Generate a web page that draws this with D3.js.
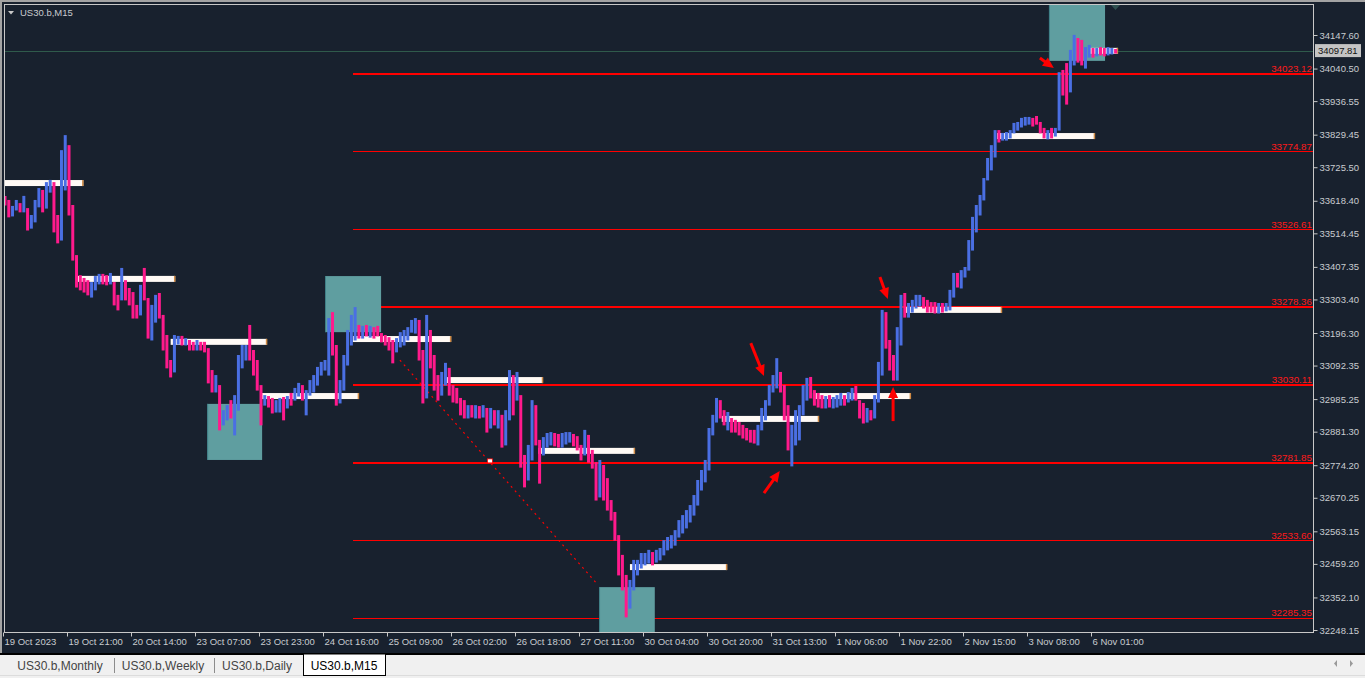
<!DOCTYPE html>
<html><head><meta charset="utf-8">
<script src="https://cdn.jsdelivr.net/npm/d3@7"></script>
<style>
body{margin:0;background:#18212e;overflow:hidden}
text{font-family:"Liberation Sans",Arial,sans-serif}
</style>
</head><body>
<svg id="c" width="1365" height="678"></svg>
<script>
// ---------------- data ----------------
const symbolTitle = "US30.b,M15";
const timeLabels = ["19 Oct 2023","19 Oct 21:00","20 Oct 14:00","23 Oct 07:00","23 Oct 23:00","24 Oct 16:00","25 Oct 09:00","26 Oct 02:00","26 Oct 18:00","27 Oct 11:00","30 Oct 04:00","30 Oct 20:00","31 Oct 13:00","1 Nov 06:00","1 Nov 22:00","2 Nov 15:00","3 Nov 08:00","6 Nov 01:00"];
const timeLabelBars = [0,17,34,51,68,85,102,119,136,153,170,187,204,221,238,255,272,289];
const priceTicks = [34147.60,34040.50,33936.55,33829.45,33725.50,33618.40,33514.45,33407.35,33303.40,33196.30,33092.35,32985.25,32881.30,32774.20,32670.25,32563.15,32459.20,32352.10,32248.15];
const fibLevels = [34023.12,33774.87,33526.61,33278.36,33030.11,32781.85,32533.60,32285.35];
const fibMain = [true,false,false,true,true,true,false,false];
const fibStartBar = 92.4;
const currentPrice = 34097.81;

const barOpen0 = 33630;
const barHigh = [
33634,33621,33602,33621,33611,33634,33595,33573,33621,33659,
33653,33678,33685,33678,33573,33780,33828,33796,33605,33445,
33381,33372,33365,33359,33378,33385,33385,33381,33388,33359,
33318,33404,33365,33340,33327,33286,33350,33404,33308,33286,
33318,33324,33254,33190,33110,33190,33187,33187,33180,33174,
33168,33174,33168,33168,33148,33078,33062,33030,32950,32966,
32982,32998,33126,33158,33158,33222,33142,33110,33030,32998,
32995,32989,32982,32989,32992,32995,33005,33021,33037,33030,
33014,33046,33062,33088,33104,33110,33244,33263,33158,33046,
33126,33206,33254,33279,33222,33219,33222,33219,33215,33219,
33196,33190,33183,33174,33180,33199,33206,33215,33238,33244,
33238,33142,33254,33206,33126,33062,33072,33101,33085,33030,
33021,32989,32982,32966,32966,32966,32963,32966,32957,32957,
32950,32950,32935,32950,33078,33062,33072,32998,32807,32839,
32982,32966,32855,32864,32877,32880,32877,32874,32877,32880,
32880,32874,32867,32839,32887,32871,32823,32784,32791,32775,
32733,32663,32625,32551,32488,32424,32408,32472,32472,32494,
32494,32504,32497,32504,32510,32535,32545,32551,32567,32599,
32615,32631,32647,32679,32727,32759,32791,32893,32935,32989,
32982,32950,32944,32925,32919,32912,32903,32893,32887,32887,
32903,32957,32982,33030,33062,33116,33072,33030,32966,32903,
32950,32966,33030,33053,33056,33014,33005,32998,32995,32998,
32992,32998,33005,32998,33008,33021,33027,32982,32973,32957,
32950,32998,33104,33270,33263,33174,33126,33215,33318,33324,
33292,33302,33318,33318,33311,33302,33295,33295,33292,33292,
33292,33334,33388,33388,33397,33407,33493,33567,33605,33637,
33691,33755,33796,33844,33844,33835,33838,33844,33867,33870,
33883,33886,33886,33883,33889,33870,33851,33844,33851,33851,
34029,34036,34058,34100,34148,34138,34132,34109,34116,34106,
34106,34109,34106,34109,34106,34103];
const barLow = [
33605,33567,33570,33589,33583,33583,33525,33531,33551,33599,
33583,33595,33646,33519,33484,33493,33653,33573,33429,33343,
33334,33327,33318,33311,33334,33353,33353,33350,33353,33286,
33270,33302,33302,33286,33244,33244,33254,33302,33180,33174,
33231,33244,33142,33085,33056,33072,33161,33158,33158,33142,
33142,33142,33142,33136,33037,33008,33008,32887,32903,32919,
32925,32871,32950,33085,33110,33110,33062,33014,32903,32966,
32960,32941,32944,32944,32919,32957,32966,32982,32995,32982,
32935,32998,33008,33030,33062,33078,33062,33126,32966,32973,
33014,33094,33158,33174,33180,33180,33187,33183,33180,33187,
33168,33158,33142,33101,33136,33152,33158,33174,33199,33196,
33110,32973,32989,33085,33014,32982,32998,33030,32998,32976,
32973,32935,32925,32925,32928,32925,32925,32928,32880,32893,
32903,32893,32832,32839,32919,32935,32982,32768,32705,32727,
32791,32839,32717,32807,32832,32839,32836,32832,32832,32842,
32848,32836,32823,32791,32807,32784,32765,32663,32673,32663,
32631,32599,32535,32424,32376,32290,32318,32376,32424,32446,
32456,32462,32456,32465,32472,32488,32504,32510,32519,32545,
32558,32574,32593,32615,32647,32695,32721,32759,32871,32912,
32925,32903,32887,32880,32880,32871,32861,32855,32848,32845,
32839,32887,32919,32966,33008,33021,33008,32919,32823,32772,
32839,32855,32935,32982,32989,32966,32960,32957,32957,32960,
32957,32960,32966,32966,32976,32982,32982,32925,32909,32912,
32919,32925,32976,33062,33148,33078,33046,33046,33158,33247,
33247,33263,33276,33282,33276,33263,33263,33260,33260,33263,
33267,33270,33311,33343,33340,33375,33397,33461,33519,33573,
33621,33685,33717,33758,33806,33812,33812,33819,33835,33844,
33854,33860,33863,33857,33863,33835,33819,33816,33819,33825,
33844,33956,33927,33966,34052,34061,34052,34042,34077,34077,
34081,34084,34081,34084,34087,34090];
const barClose = [
33621,33579,33592,33611,33592,33602,33551,33563,33605,33646,
33605,33666,33672,33557,33519,33749,33780,33605,33445,33365,
33359,33350,33334,33343,33365,33372,33369,33365,33365,33302,
33292,33350,33318,33302,33270,33263,33334,33308,33206,33254,
33302,33254,33174,33104,33072,33174,33174,33168,33171,33158,
33155,33161,33158,33148,33062,33021,33030,32919,32935,32950,
32944,32966,33110,33126,33142,33126,33094,33030,32982,32982,
32976,32950,32966,32982,32935,32989,32982,33008,33021,32998,
32998,33030,33046,33078,33085,33104,33190,33142,32982,33030,
33110,33174,33206,33206,33199,33206,33196,33206,33199,33193,
33183,33174,33158,33142,33158,33174,33190,33206,33222,33231,
33126,32998,33190,33110,33046,33008,33046,33072,33014,32998,
32982,32950,32944,32950,32944,32950,32938,32950,32903,32935,
32919,32925,32855,32935,33046,32966,32998,32791,32743,32791,
32950,32855,32823,32839,32855,32861,32855,32848,32855,32867,
32871,32855,32839,32807,32871,32807,32784,32679,32759,32711,
32647,32615,32551,32456,32408,32360,32376,32440,32456,32472,
32478,32488,32472,32494,32504,32519,32535,32535,32558,32583,
32599,32615,32625,32663,32711,32743,32775,32871,32919,32966,
32944,32919,32925,32903,32893,32887,32877,32871,32861,32855,
32887,32935,32966,33014,33046,33062,33021,32950,32855,32887,
32919,32935,33014,33030,33008,32989,32982,32976,32982,32973,
32982,32989,32992,32982,32995,33008,32998,32950,32925,32944,
32935,32982,33078,33238,33174,33110,33078,33190,33302,33270,
33276,33286,33302,33308,33292,33286,33279,33276,33282,33276,
33286,33318,33372,33365,33381,33397,33468,33541,33589,33627,
33678,33733,33780,33828,33825,33828,33832,33838,33854,33863,
33876,33879,33883,33876,33870,33844,33828,33838,33828,33844,
34004,33988,33956,34068,34116,34100,34084,34093,34100,34093,
34100,34097,34093,34100,34100,34098];

// white level segments
const zonePrice = [33675,33369,33168,32995,33177,33046,32820,32449,32922,32995,33270,33825,34097];
const zoneFrom  = [0,19,44,68,92.4,117,141.6,166,190.4,214.6,238.8,263.5,288];
const zoneTo    = [20.8,45.2,69.6,94,118.5,142.9,167.3,191.8,216.2,240.6,264.8,289.5,295.6];

// teal boxes
const boxFrom   = [53.7,85,157.8,277.3];
const boxTo     = [68.3,99.9,172.6,292.2];
const boxTop    = [32970,33378,32385,34244];
const boxBottom = [32791,33199,32206,34065];

// red arrows [bar, price]
const arrowTail = [[198.1,33164],[201.6,32685],[235.9,32915],[232.4,33375],[274.9,34074]];
const arrowHead = [[201.6,33059],[205.8,32756],[235.9,33024],[234.5,33305],[278.6,34042]];

// dotted trend line
const trendStart = [104.9,33110];
const trendEnd   = [157.5,32392];
const trendMarker = [128.8,32788];

const tabNames = ["US30.b,Monthly","US30.b,Weekly","US30.b,Daily","US30.b,M15"];
const activeTab = 3;

// ---------------- drawing ----------------
const W = 1365, H = 678;
const L = 4, R = 1313, T = 4, B = 632;
const svg = d3.select("#c");
const x = d3.scaleLinear().domain([0,17]).range([5,69]);
const y = d3.scaleLinear().domain([32248.15,34147.60]).range([630,35]);

svg.append("rect").attr("width",W).attr("height",H).attr("fill","#18212e");
// window edges
svg.append("rect").attr("x",0).attr("y",0).attr("width",W).attr("height",2).attr("fill","#a3a3a3");
svg.append("rect").attr("x",0).attr("y",0).attr("width",2).attr("height",653).attr("fill","#a3a3a3");

svg.append("defs").append("clipPath").attr("id","plot")
  .append("rect").attr("x",L+1).attr("y",T+1).attr("width",R-L-1).attr("height",B-T-1);
const g = svg.append("g").attr("clip-path","url(#plot)");

// current price line
g.append("line").attr("x1",L).attr("x2",R).attr("y1",Math.round(y(currentPrice))+0.5).attr("y2",Math.round(y(currentPrice))+0.5)
  .attr("stroke","#2f5a4b").attr("stroke-width",1).attr("shape-rendering","crispEdges");

// fib lines
fibLevels.forEach((v,i)=>{
  const yy = fibMain[i] ? Math.round(y(v)) : Math.floor(y(v)) + 0.5;
  g.append("line").attr("x1",x(fibStartBar)).attr("x2",R).attr("y1",yy).attr("y2",yy)
    .attr("stroke","#ff0000").attr("stroke-width",fibMain[i]?2:1).attr("shape-rendering","crispEdges");
  svg.append("text").attr("x",R-1).attr("y",Math.round(y(v))-2.5).attr("text-anchor","end")
    .attr("font-size","9.8px").attr("fill","#ff1a1a").text(d3.format(".2f")(v));
});

// boxes
boxFrom.forEach((f,i)=>{
  g.append("rect").attr("x",x(f)).attr("y",y(boxTop[i])).attr("width",x(boxTo[i])-x(f))
    .attr("height",y(boxBottom[i])-y(boxTop[i])).attr("fill","#5f9ea0");
  g.append("line").attr("x1",x(f)+0.5).attr("x2",x(f)+0.5).attr("y1",y(boxTop[i])).attr("y2",y(boxBottom[i]))
    .attr("stroke","#3f7f86").attr("stroke-width",1);
});

// trend line
g.append("line").attr("x1",x(trendStart[0])).attr("y1",y(trendStart[1]))
  .attr("x2",x(trendEnd[0])).attr("y2",y(trendEnd[1]))
  .attr("stroke","#ff0000").attr("stroke-width",1.2).attr("stroke-dasharray","2,4");
g.append("rect").attr("x",x(trendMarker[0])-2.5).attr("y",y(trendMarker[1])-2)
  .attr("width",5).attr("height",4).attr("fill","#ffffff").attr("stroke","#ff0000").attr("stroke-width",0.8);

// white zones
zonePrice.forEach((p,i)=>{
  const x0 = x(zoneFrom[i]), x1 = x(zoneTo[i]);
  g.append("rect").attr("x",x0).attr("y",y(p)-3).attr("width",x1-x0).attr("height",6).attr("fill","#fffaf5");
  g.append("rect").attr("x",x1-1.2).attr("y",y(p)-3).attr("width",1.5).attr("height",6).attr("fill","#d08a44");
});

// candles
const bars = barHigh.map((h,i)=>{
  const o = i===0 ? barOpen0 : barClose[i-1];
  return {i, h, l: barLow[i], o, c: barClose[i]};
});
g.selectAll("line.bar").data(bars).join("line").attr("class","bar")
  .attr("x1",d=>x(d.i)).attr("x2",d=>x(d.i))
  .attr("y1",d=>y(d.h)).attr("y2",d=>y(d.l)+0.5)
  .attr("stroke",d=>d.c>=d.o ? "#4a6fe3" : "#ff1a8c").attr("stroke-width",3);

// arrows
arrowTail.forEach((t,i)=>{
  const hd = arrowHead[i];
  const x0 = x(t[0]), y0 = y(t[1]), x1 = x(hd[0]), y1 = y(hd[1]);
  const dx = x1-x0, dy = y1-y0, len = Math.hypot(dx,dy);
  const ux = dx/len, uy = dy/len, px = -uy, py = ux;
  const hl = 11, hw = 5;
  const bx = x1-ux*hl, by = y1-uy*hl;
  g.append("line").attr("x1",x0).attr("y1",y0).attr("x2",bx+ux*1).attr("y2",by+uy*1)
    .attr("stroke","#ff0000").attr("stroke-width",3);
  g.append("path").attr("d",`M${x1},${y1}L${bx+px*hw},${by+py*hw}L${bx-px*hw},${by-py*hw}Z`).attr("fill","#ff0000");
});

// shift marker
svg.append("path").attr("d","M1111,5L1120,5L1115.5,10Z").attr("fill","#2f5050");

// frame
svg.append("rect").attr("x",L+0.5).attr("y",T+0.5).attr("width",R-L).attr("height",B-T)
  .attr("fill","none").attr("stroke","#c8c8c8").attr("stroke-width",1);

// right axis
const ay = svg.append("g").attr("transform",`translate(${R+0.5},0)`)
  .call(d3.axisRight(y).tickValues(priceTicks).tickSize(4).tickFormat(d3.format(".2f")));
ay.select(".domain").remove();
ay.selectAll("line").attr("stroke","#c8c8c8");
ay.selectAll("text").attr("fill","#c8ccd0").attr("font-size","9.5px").attr("font-family","Liberation Sans").attr("x",6);

// current price label
const cy = y(currentPrice);
svg.append("rect").attr("x",R+2).attr("y",cy-6.5).attr("width",46).attr("height",13).attr("fill","#c4c4c4");
svg.append("text").attr("x",R+5).attr("y",cy+3.5).attr("font-size","9.5px").attr("fill","#111").text(d3.format(".2f")(currentPrice));

// bottom axis
const ax = svg.append("g").attr("transform",`translate(-2,${B+0.5})`)
  .call(d3.axisBottom(x).tickValues(timeLabelBars).tickSize(4).tickFormat((d,i)=>timeLabels[i]));
ax.select(".domain").remove();
ax.selectAll("line").attr("stroke","#c8c8c8");
ax.selectAll("text").attr("fill","#c8ccd0").attr("font-size","9.5px").attr("font-family","Liberation Sans")
  .attr("text-anchor","start").attr("x",1).attr("y",6);

// title
svg.append("path").attr("d","M8,11L14,11L11,14.5Z").attr("fill","#c8c8c8");
svg.append("text").attr("x",20).attr("y",16).attr("font-size","9.5px").attr("fill","#c8ccd0").text(symbolTitle);

// tabs bar
svg.append("rect").attr("x",0).attr("y",653).attr("width",W).attr("height",2).attr("fill","#000");
svg.append("rect").attr("x",0).attr("y",655).attr("width",W).attr("height",23).attr("fill","#f0f0f0");
svg.append("rect").attr("x",0).attr("y",675).attr("width",W).attr("height",1).attr("fill","#dcdcdc");
const tabCenters = [60,163,257,344];
const sepX = [114,214];
svg.append("rect").attr("x",303.5).attr("y",654).attr("width",82).attr("height",21.5)
  .attr("fill","#ffffff").attr("stroke","#000").attr("stroke-width",1);
sepX.forEach(s=>svg.append("rect").attr("x",s).attr("y",658).attr("width",1).attr("height",15).attr("fill","#8c8c8c"));
tabNames.forEach((n,i)=>{
  svg.append("text").attr("x",tabCenters[i]).attr("y",670).attr("text-anchor","middle")
    .attr("font-size","12px").attr("fill",i===activeTab?"#000":"#444").text(n);
});
svg.append("path").attr("d","M1337,660L1334,663.5L1337,667Z").attr("fill","#9a9a9a");
svg.append("path").attr("d","M1350,660L1353,663.5L1350,667Z").attr("fill","#9a9a9a");
</script>
</body></html>
